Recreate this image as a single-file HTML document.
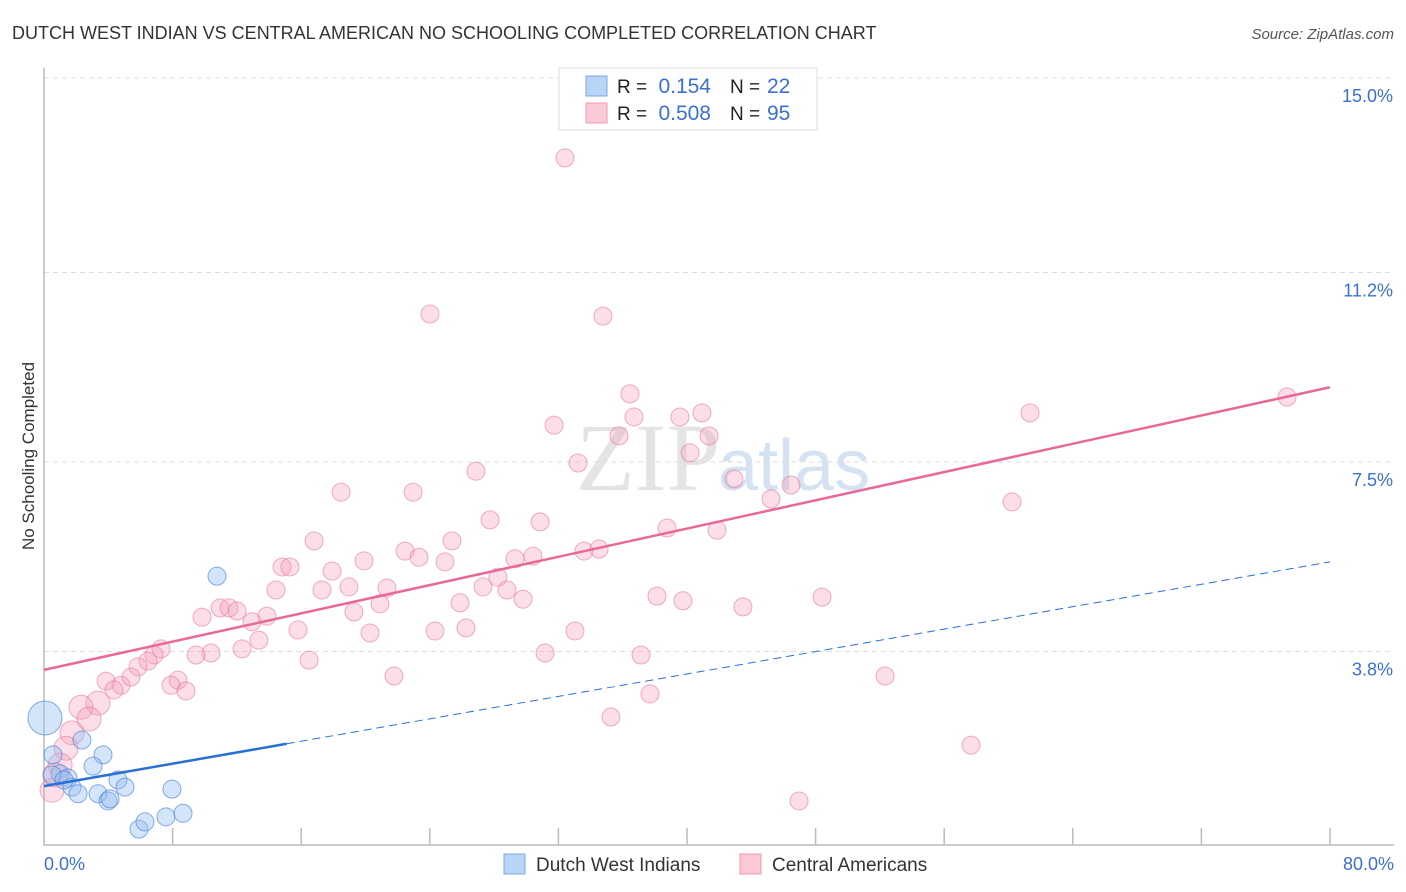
<!DOCTYPE html>
<html><head><meta charset="utf-8"><style>
body{margin:0;background:#fff;font-family:"Liberation Sans",sans-serif;}
#wrap{position:relative;width:1406px;height:892px;overflow:hidden}
</style></head><body>
<div id="wrap">
<svg id="svg" width="1406" height="892"></svg>
</div>
<script>
const pinkX=[32.41,24.01,34.77,36.45,36.70,31.73,39.56,40.93,35.77,41.37,40.19,33.22,26.87,42.92,61.34,77.33,18.48,22.96,46.47,45.23,60.22,27.75,30.86,38.76,41.87,16.80,25.38,22.46,19.91,23.33,24.95,29.30,30.42,33.59,34.53,14.81,15.30,17.92,28.24,14.43,17.29,18.97,21.34,27.31,28.80,20.90,25.88,29.80,38.13,39.75,43.48,48.40,10.95,11.51,12.01,9.83,13.87,19.28,12.94,15.80,26.25,20.28,24.32,33.03,13.37,12.32,10.39,9.46,7.28,6.84,16.49,31.17,37.14,6.47,5.85,4.79,8.34,7.90,8.83,5.41,3.86,4.35,3.36,2.30,2.80,21.77,52.32,37.70,35.27,1.74,1.37,57.67,46.97,1.00,0.50,0.68];
const pinkY=[13.44,10.39,10.35,8.83,8.38,8.22,8.38,8.46,8.01,8.01,7.68,7.48,7.32,7.17,8.46,8.77,6.91,6.91,7.05,6.78,6.72,6.37,6.33,6.21,6.17,5.96,5.96,5.76,5.57,5.64,5.55,5.61,5.66,5.76,5.80,5.45,5.45,5.37,5.25,5.00,5.00,5.06,5.04,5.06,5.00,4.73,4.75,4.82,4.88,4.79,4.67,4.86,4.65,4.65,4.59,4.47,4.49,4.57,4.38,4.22,4.26,4.16,4.20,4.20,4.02,3.85,3.77,3.73,3.85,3.73,3.63,3.77,3.73,3.61,3.50,3.14,3.24,3.14,3.03,3.30,3.22,3.05,2.79,2.71,2.48,3.32,3.32,2.97,2.52,2.21,1.91,1.97,0.88,1.58,1.09,1.39];
const blueX=[10.76,2.36,3.67,3.05,0.56,0.06,1.00,1.49,1.74,2.12,3.36,4.60,5.04,3.98,4.11,7.96,5.91,6.28,7.59,8.65,0.50,1.24];
const blueY=[5.27,2.07,1.78,1.56,1.78,2.50,1.41,1.33,1.15,1.02,1.02,1.29,1.15,0.88,0.92,1.11,0.33,0.47,0.57,0.64,1.39,1.29];
const yTicks=[3.8,7.5,11.2,15.0];
const pinkLine=[3.44,8.96];
const blueLine=[1.17,5.55];
const blueSolidEnd=15.1;
const X=v=>44+v*16.075, Y=v=>846-v*51.2;
const NS="http://www.w3.org/2000/svg", svg=document.getElementById('svg');
function mk(t,a,txt){const e=document.createElementNS(NS,t);for(const k in a)e.setAttribute(k,a[k]);if(txt!=null)e.textContent=txt;svg.appendChild(e);return e;}
let e;
e=mk('text',{x:12,y:39,'font-size':18,fill:'#333'},'DUTCH WEST INDIAN VS CENTRAL AMERICAN NO SCHOOLING COMPLETED CORRELATION CHART');


e=mk('text',{x:1394,y:39,'font-size':15,fill:'#555','font-style':'italic','text-anchor':'end'},'Source: ZipAtlas.com');


e=mk('text',{x:720,y:490,'font-size':96,fill:'#e4e4e4','font-family':'Liberation Serif','text-anchor':'end'},'ZIP');


e=mk('text',{x:718,y:490,'font-size':72,fill:'#d4e2f2'},'atlas');


yTicks.forEach(t=>{
 e=mk('line',{x1:44,x2:1394,y1:Y(t),y2:Y(t),stroke:'#ddd','stroke-dasharray':'5,4'});
 
 
 e=mk('text',{x:1393,y:Y(t)+24,'font-size':18,fill:'#3b6fd0','text-anchor':'end'},t.toFixed(1)+'%');
 
 
});
e=mk('line',{x1:44,x2:44,y1:68,y2:846,stroke:'#bbb','stroke-width':1.5});


e=mk('line',{x1:44,x2:1394,y1:845,y2:845,stroke:'#bbb','stroke-width':1.5});


for(let i=1;i<=10;i++){
 e=mk('line',{x1:X(i*8),x2:X(i*8),y1:828,y2:845,stroke:'#bbb','stroke-width':1.5});
 
 
}
e=mk('text',{x:44,y:870,'font-size':18,fill:'#3b6fd0'},'0.0%');


e=mk('text',{x:1394,y:870,'font-size':18,fill:'#3b6fd0','text-anchor':'end'},'80.0%');


e=mk('text',{x:34,y:456,'font-size':17,fill:'#333','text-anchor':'middle',transform:'rotate(-90 34 456)'},'No Schooling Completed');


pinkX.forEach((v,i)=>{
 const r=(v<3.5&&pinkY[i]<3)?12:9;
 e=mk('circle',{cx:X(v),cy:Y(pinkY[i]),r:r,fill:'rgba(244,160,185,0.35)',stroke:'rgba(232,120,155,0.6)','stroke-width':1});
 
 
});
blueX.forEach((v,i)=>{
 const r=i==5?17:9;
 e=mk('circle',{cx:X(v),cy:Y(blueY[i]),r:r,fill:'rgba(150,190,240,0.4)',stroke:'rgba(70,130,220,0.65)','stroke-width':1});
 
 
});
e=mk('line',{x1:X(0),y1:Y(pinkLine[0]),x2:X(80),y2:Y(pinkLine[1]),stroke:'#e8689a','stroke-width':2.5});


const bs=(blueLine[1]-blueLine[0])/80;
e=mk('line',{x1:X(0),y1:Y(blueLine[0]),x2:X(blueSolidEnd),y2:Y(blueLine[0]+bs*blueSolidEnd),stroke:'#2a6fd6','stroke-width':2.5});


e=mk('line',{x1:X(blueSolidEnd),y1:Y(blueLine[0]+bs*blueSolidEnd),x2:X(80),y2:Y(blueLine[1]),stroke:'#2a6fd6','stroke-width':1,'stroke-dasharray':'8,5'});


// legend box
e=mk('rect',{x:559,y:68,width:258,height:62,fill:'#fff',stroke:'#ddd'});


[[0,'0.154','22','#b8d4f6','#7aa8e6'],[1,'0.508','95','#fbc8d6','#f09ab5']].forEach(([i,r,n,f,s])=>{
 const y=86+i*27;
 e=mk('rect',{x:586,y:y-10,width:21,height:20,fill:f,stroke:s});
 
 
 e=mk('text',{x:617,y:y+7,'font-size':19,fill:'#222'},'R = ');
 
 
 e=mk('text',{x:711,y:y+7,'font-size':21,fill:'#3b6fd0','text-anchor':'end'},r);
 
 
 e=mk('text',{x:730,y:y+7,'font-size':19,fill:'#222'},'N = ');
 
 
 e=mk('text',{x:767,y:y+7,'font-size':21,fill:'#3b6fd0'},n);
 
 
});
// bottom legend
[[504,'Dutch West Indians','#b8d4f6','#7aa8e6'],[740,'Central Americans','#fbc8d6','#f09ab5']].forEach(([x,t,f,s])=>{
 e=mk('rect',{x:x,y:854,width:21,height:20,fill:f,stroke:s});
 
 
 e=mk('text',{x:x+32,y:871,'font-size':19,fill:'#333'},t);
 
 
});
</script>
</body></html>
